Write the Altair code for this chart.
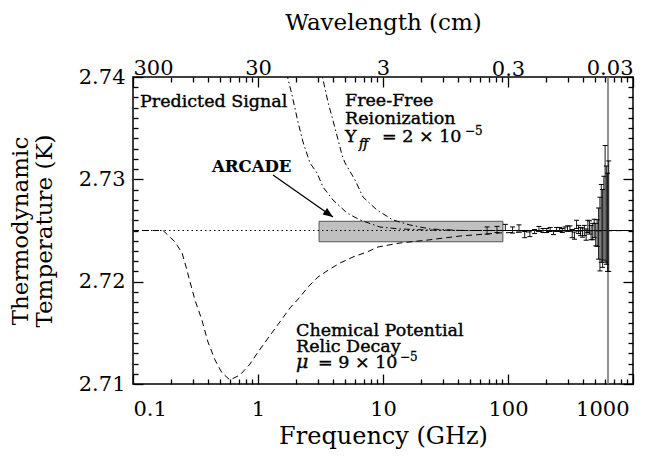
import altair as alt
import pandas as pd

FONT = "DejaVu Serif"
T0 = 2.725

# ---------------- data ----------------
# FIRAS-like spectrum: frequency (GHz), residual about T0 (mK), error (mK)
firas_freq = [68.0, 81.6, 95.2, 108.8, 122.4, 136.0, 149.6, 163.2, 176.8, 190.4,
              204.0, 217.6, 231.2, 244.8, 258.4, 272.0, 285.6, 299.2, 312.8, 326.4,
              340.0, 353.6, 367.2, 380.8, 394.4, 408.0, 421.6, 435.2, 448.8, 462.4,
              476.0, 489.6, 503.2, 516.8, 530.4, 544.0, 557.6, 571.2, 584.8, 598.4,
              612.0, 625.6, 639.2]
firas_resid = [0.0, 0.1, 0.3, 0.05, 0.25, -0.4, -0.3, -0.1, 0.2, 0.0,
               0.0, 0.1, -0.2, 0.1, 0.1, 0.0, 0.15, 0.2, 0.2, -0.3,
               -0.5, 0.6, 0.1, -0.1, -0.2, 0.0, -0.4, 0.4, 0.3, -0.2,
               -0.1, 0.2, -0.4, -0.25, -0.3, -0.35, 0.7, 0.2, 1.2, 2.6,
               1.5, 0.8, 1.4]
firas_err = [0.35, 0.3, 0.3, 0.3, 0.3, 0.3, 0.3, 0.2, 0.2, 0.2,
             0.2, 0.2, 0.2, 0.2, 0.2, 0.2, 0.2, 0.25, 0.25, 0.4,
             0.35, 0.4, 0.4, 0.4, 0.45, 0.5, 0.55, 0.6, 0.65, 0.7,
             0.8, 0.9, 1.1, 1.3, 2.5, 3.6, 3.8, 3.8, 4.1, 5.7,
             4.8, 4.8, 5.4]

# chemical potential / relic decay curve (dashed)
mu_freq = [0.1, 0.174, 0.217, 0.247, 0.270, 0.286, 0.313, 0.356, 0.398, 0.453,
           0.515, 0.597, 0.718, 0.863, 1.0, 1.556, 1.803, 2.168, 2.512, 3.02,
           3.767, 4.529, 5.754, 7.447, 9.12, 13.68, 22.9, 41.3, 86.3, 180.0, 1000.0]
mu_temp = [2.7250, 2.7250, 2.72388, 2.72280, 2.72114, 2.71997, 2.71821, 2.71625, 2.71410, 2.71235,
           2.71108, 2.71040, 2.71088, 2.71195, 2.71313, 2.71635, 2.71743, 2.71850, 2.71948, 2.72046,
           2.72124, 2.72182, 2.72241, 2.72290, 2.72339, 2.72378, 2.72407, 2.72446, 2.72476, 2.72490, 2.7250]

# predicted signal curve (dash-dot, left)
sig_freq = [1.585, 1.706, 1.871, 2.089, 2.291, 2.606, 2.965, 3.311, 3.981, 5.152,
            6.546, 9.46, 13.68, 22.5, 50.0, 1000.0]
sig_temp = [2.74166, 2.7402, 2.73824, 2.73560, 2.73365, 2.73160, 2.73062, 2.72925, 2.72798, 2.72671,
            2.72603, 2.72534, 2.72515, 2.72505, 2.7250, 2.7250]

# free-free reionization curve (dash-dot, right)
ff_freq = [3.02, 3.25, 3.63, 4.13, 4.70, 4.97, 5.97, 6.92, 8.95, 12.0,
           16.4, 23.8, 41.3, 1000.0]
ff_temp = [2.74215, 2.7402, 2.73756, 2.73502, 2.73238, 2.73160, 2.72994, 2.72827, 2.72700, 2.72603,
           2.72554, 2.72515, 2.72500, 2.7250]

# reference blackbody (dotted) and fit line (solid)
base_freq = [0.1, 1000.0]
base_temp = [T0, T0]
fit_freq = [90.0, 640.0]
fit_temp = [T0, T0]

# ARCADE box
box_freq = [3.08, 91.0]
box_temp = [2.7239, 2.7259]

# vertical line
vline_freq = [631.0]

# arrow (tail -> tip)
arrow_freq = [1.318, 3.98]
arrow_temp = [2.73042, 2.72632]

# annotations (regular weight)
ann_text = ["Predicted Signal", "Free-Free", "Reionization", "Y", "= 2 × 10",
            "Chemical Potential", "Relic Decay", "= 9 × 10"]
ann_freq = [0.1138, 4.966, 4.966, 4.966, 9.817, 2.014, 2.014, 3.02]
ann_temp = [2.73707, 2.73717, 2.73541, 2.73365, 2.73365, 2.71470, 2.71310, 2.71157]
ann_size = [17.5, 17.5, 17.5, 17.5, 17.5, 17.5, 17.5, 17.5]

bold_text = ["ARCADE"]
bold_freq = [0.4285]
bold_temp = [2.73072]
bold_size = [16.5]

ital_text = ["ff", "μ"]
ital_freq = [6.427, 2.014]
ital_temp = [2.73306, 2.71157]
ital_size = [13, 19]

sup_text = ["−5", "−5"]
sup_freq = [45.3, 13.68]
sup_temp = [2.73433, 2.71225]
sup_size = [12, 12]

# axes
x_major = [0.1, 1, 10, 100, 1000]
x_labels = ["0.1", "1", "10", "100", "1000"]
wl_labels = ["300", "30", "3", "0.3", "0.03"]
x_minor = [0.2, 0.3, 0.4, 0.5, 0.6, 0.7, 0.8, 0.9,
           2, 3, 4, 5, 6, 7, 8, 9,
           20, 30, 40, 50, 60, 70, 80, 90,
           200, 300, 400, 500, 600, 700, 800, 900]
y_major = [2.71, 2.72, 2.73, 2.74]
y_labels = ["2.71", "2.72", "2.73", "2.74"]
y_minor = [2.711, 2.712, 2.713, 2.714, 2.715, 2.716, 2.717, 2.718, 2.719,
           2.721, 2.722, 2.723, 2.724, 2.725, 2.726, 2.727, 2.728, 2.729,
           2.731, 2.732, 2.733, 2.734, 2.735, 2.736, 2.737, 2.738, 2.739]

# ---------------- chart ----------------
W, H = 500, 307
xs = alt.Scale(type="log", domain=[0.1, 1000], nice=False)
ys = alt.Scale(domain=[2.71, 2.74], nice=False, zero=False)


def lbl_expr(vals, labels):
    v = "[" + ",".join(str(a) for a in vals) + "]"
    l = "[" + ",".join("'" + s + "'" for s in labels) + "]"
    return f"{l}[indexof({v}, datum.value)]"


def tick_axis(orient, values, size):
    return alt.Axis(orient=orient, values=values, labels=False, domain=False, grid=False,
                    ticks=True, tickSize=size, offset=-size, tickColor="black",
                    tickWidth=1.3, title=None)


ax_bottom = alt.Axis(orient="bottom", values=x_major, labelExpr=lbl_expr(x_major, x_labels),
                     ticks=False, domain=False, grid=False, labelFont=FONT, labelFontSize=21,
                     labelColor="black", labelPadding=14,
                     labelOffset={"condition": {"test": "datum.value == 1000", "value": -4}, "value": 0},
                     title="Frequency (GHz)", titleFont=FONT, titleFontSize=24,
                     titleFontWeight="normal", titleColor="black", titleX=W / 2, titleY=52,
                     titleAlign="center", titleBaseline="middle")
ax_top = alt.Axis(orient="top", values=x_major, labelExpr=lbl_expr(x_major, wl_labels),
                  ticks=False, domain=False, grid=False, labelFont=FONT, labelFontSize=21,
                  labelColor="black", labelBaseline="alphabetic",
                  labelPadding={"condition": {"test": "datum.value == 100", "value": 1.5}, "value": 3},
                  title="Wavelength (cm)", titleFont=FONT, titleFontSize=23,
                  titleFontWeight="normal", titleColor="black", titleX=W / 2, titleY=-55,
                  titleAlign="center", titleBaseline="middle")
ax_left = alt.Axis(orient="left", values=y_major, labelExpr=lbl_expr(y_major, y_labels),
                   ticks=False, domain=False, grid=False, labelFont=FONT, labelFontSize=21,
                   labelColor="black", labelPadding=8,
                   title=["Thermodynamic", "Temperature (K)"], titleFont=FONT, titleFontSize=23,
                   titleFontWeight="normal", titleColor="black", titleAngle=270,
                   titleX=-113, titleY=H / 2, titleAlign="center", titleBaseline="middle",
                   titleLineHeight=24)

df_firas = pd.DataFrame({"freq": firas_freq, "resid": firas_resid, "err": firas_err})
df_firas["temp"] = T0 + df_firas["resid"] / 1000.0
df_firas["lo"] = df_firas["temp"] - df_firas["err"] / 1000.0
df_firas["hi"] = df_firas["temp"] + df_firas["err"] / 1000.0

box = alt.Chart(pd.DataFrame({"f1": [box_freq[0]], "f2": [box_freq[1]],
                              "t1": [box_temp[0]], "t2": [box_temp[1]]})).mark_rect(
    fill="#c0c0c0", stroke="#555555", strokeWidth=1).encode(
    x=alt.X("f1:Q", scale=xs, axis=ax_bottom), x2="f2:Q",
    y=alt.Y("t1:Q", scale=ys, axis=ax_left), y2="t2:Q")

dotted = alt.Chart(pd.DataFrame({"freq": base_freq, "temp": base_temp})).mark_line(
    color="black", strokeWidth=1, strokeDash=[1.5, 3]).encode(
    x=alt.X("freq:Q", scale=xs, axis=tick_axis("bottom", x_major, 10)),
    y=alt.Y("temp:Q", scale=ys, axis=tick_axis("left", y_major, 10)))

mu = alt.Chart(pd.DataFrame({"freq": mu_freq, "temp": mu_temp})).mark_line(
    color="black", strokeWidth=1, strokeDash=[6, 4], clip=True).encode(
    x=alt.X("freq:Q", scale=xs, axis=tick_axis("bottom", x_minor, 5)),
    y=alt.Y("temp:Q", scale=ys, axis=tick_axis("left", y_minor, 5)))

sig = alt.Chart(pd.DataFrame({"freq": sig_freq, "temp": sig_temp})).mark_line(
    color="black", strokeWidth=1, strokeDash=[6, 3, 1.5, 3], clip=True).encode(
    x=alt.X("freq:Q", scale=xs, axis=ax_top),
    y=alt.Y("temp:Q", scale=ys, axis=tick_axis("right", y_major, 10)))

ff = alt.Chart(pd.DataFrame({"freq": ff_freq, "temp": ff_temp})).mark_line(
    color="black", strokeWidth=1, strokeDash=[6, 3, 1.5, 3], clip=True).encode(
    x=alt.X("freq:Q", scale=xs, axis=tick_axis("top", x_major, 10)),
    y=alt.Y("temp:Q", scale=ys, axis=tick_axis("right", y_minor, 5)))

fit = alt.Chart(pd.DataFrame({"freq": fit_freq, "temp": fit_temp})).mark_line(
    color="black", strokeWidth=1.2).encode(
    x=alt.X("freq:Q", scale=xs, axis=tick_axis("top", x_minor, 5)),
    y=alt.Y("temp:Q", scale=ys, axis=None))

vline = alt.Chart(pd.DataFrame({"freq": vline_freq})).mark_rule(
    color="#6e6e6e", strokeWidth=1.5).encode(
    x=alt.X("freq:Q", scale=xs, axis=None))

bars = alt.Chart(df_firas).mark_rule(color="#1a1a1a", strokeWidth=1).encode(
    x=alt.X("freq:Q", scale=xs, axis=None),
    y=alt.Y("lo:Q", scale=ys, axis=None), y2="hi:Q")

caps = alt.Chart(df_firas).transform_fold(["lo", "hi"], as_=["k", "v"]).mark_tick(
    orient="horizontal", size=5, thickness=1, color="black", opacity=1).encode(
    x=alt.X("freq:Q", scale=xs, axis=None),
    y=alt.Y("v:Q", scale=ys, axis=None))

arrow_line = alt.Chart(pd.DataFrame({"f1": [arrow_freq[0]], "f2": [arrow_freq[1]],
                                     "t1": [arrow_temp[0]], "t2": [arrow_temp[1]]})).mark_rule(
    color="black", strokeWidth=1.3).encode(
    x=alt.X("f1:Q", scale=xs, axis=None), x2="f2:Q",
    y=alt.Y("t1:Q", scale=ys, axis=None), y2="t2:Q")

arrow_head = alt.Chart(pd.DataFrame({"f": [arrow_freq[1]], "t": [arrow_temp[1]]})).mark_point(
    shape="M0,0L-1,-0.4L-1,0.4Z", angle=35, size=400, filled=True, color="black",
    opacity=1).encode(
    x=alt.X("f:Q", scale=xs, axis=None), y=alt.Y("t:Q", scale=ys, axis=None))


def text_layer(texts, freqs, temps, sizes, **kw):
    return alt.Chart(pd.DataFrame({"text": texts, "freq": freqs, "temp": temps,
                                   "size": sizes})).mark_text(
        align="left", baseline="alphabetic", font=FONT, color="black", stroke="black",
        **kw).encode(
        x=alt.X("freq:Q", scale=xs, axis=None), y=alt.Y("temp:Q", scale=ys, axis=None),
        text="text:N", size=alt.Size("size:Q", scale=None, legend=None))


ann = text_layer(ann_text, ann_freq, ann_temp, ann_size, strokeWidth=0.4)
bold = text_layer(bold_text, bold_freq, bold_temp, bold_size, fontWeight="bold", strokeWidth=0.2)
ital = text_layer(ital_text, ital_freq, ital_temp, ital_size, fontStyle="italic", strokeWidth=0.4)
sup = text_layer(sup_text, sup_freq, sup_temp, sup_size, strokeWidth=0.3)

chart = alt.layer(box, dotted, mu, sig, ff, fit, vline, bars, caps,
                  arrow_line, arrow_head, ann, bold, ital, sup).resolve_scale(
    x="shared", y="shared").resolve_axis(x="independent", y="independent").properties(
    width=W, height=H,
    padding={"left": 125, "top": 69, "right": 24, "bottom": 65},
    autosize=alt.AutoSizeParams(type="none"),
    background="white").configure_view(stroke="black", strokeWidth=1.5)

chart.save("out.html", embed_options={"renderer": "svg", "actions": False})
